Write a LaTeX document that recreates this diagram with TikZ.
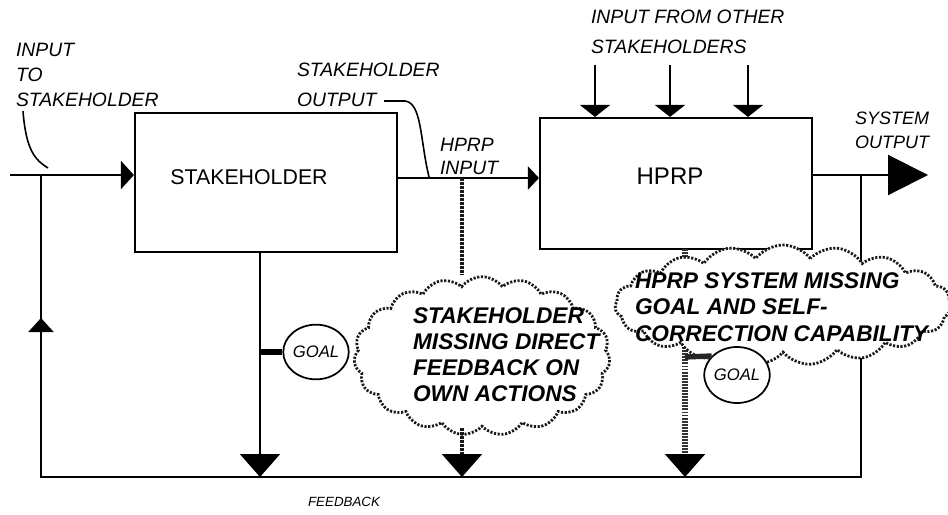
\documentclass[tikz,border=0pt]{standalone}
\usepackage{fontspec}
\setmainfont{Liberation Sans}
\usetikzlibrary{arrows.meta,shapes.geometric,shapes.symbols,calc}
\newcommand\lblfont[1]{\fontsize{14.5}{#1}\selectfont\itshape}
\begin{document}
\begin{tikzpicture}[x=0.75pt,y=-0.75pt,line width=1.6pt,
  boxnode/.style={draw,rectangle,inner sep=0pt,line width=1.6pt},
  lbl/.style={align=left,inner sep=0pt,anchor=west},
  cloudtxt/.style={font=\fontsize{17}{19.5}\selectfont\bfseries\itshape,align=left,inner sep=0pt,anchor=west},
  boxtxt/.style={inner sep=0pt},
  goalnode/.style={draw,ellipse,fill=white,inner sep=0pt,line width=1.3pt,font=\fontsize{12.5}{14}\selectfont\itshape},
  cloudshape/.style={cloud,cloud puffs=19,cloud puff arc=105,cloud ignores aspect,draw=black!90,fill=white,
    line width=2.1pt,dash pattern=on 1.6pt off 1.2pt,inner sep=0pt},
  hatchthin/.style={draw=black!90,line width=3.2pt,dash pattern=on 2pt off 1pt},
  hatchthick/.style={draw=black!80,line width=5pt,dash pattern=on 1.4pt off 0.9pt},
  goallink/.style={line width=4pt},
  tipIn/.style={-{Triangle[length=9.75pt,width=21pt]}},
  tipHp/.style={-{Triangle[length=8.25pt,width=17.25pt]}},
  tipUp/.style={-{Triangle[length=10.5pt,width=18.75pt]}},
  tipOther/.style={-{Triangle[length=9pt,width=22.5pt]}},
  tipDown/.style={-{Triangle[length=17.25pt,width=30pt]}},
  tipOut/.style={-{Triangle[length=30pt,width=30pt]}}]
\useasboundingbox (0,0) rectangle (948,514);

% boxes
\node[boxnode,minimum width=196.5pt,minimum height=104.25pt] (sh) at (266,182.5) {};
\node[boxnode,minimum width=204pt,minimum height=98.25pt] (hp) at (676,183.5) {};
\node[boxtxt,font=\fontsize{16}{18}\selectfont] (shtxt) at (249,177) {STAKEHOLDER};
\node[boxtxt,font=\fontsize{18}{20}\selectfont] (hptxt) at (670,176) {HPRP};

% coordinates
\coordinate (in) at (10,175);
\coordinate (j1) at (41,175);
\coordinate (fbL) at (41,477);
\coordinate (fbR) at (861,477);
\coordinate (j2) at (861,175);
\coordinate (outEnd) at (928,175);
\coordinate (upTip) at (41,318);
\coordinate (hpin) at (462,178);
\coordinate (sd) at (260,477);
\coordinate (hpd) at (685,249);
\coordinate (hpdb) at (685,455);
\coordinate (hpdt) at (685,477);
\coordinate (o1) at (595,65);
\coordinate (o2) at (670,65);
\coordinate (o3) at (748,65);

% goal circle 1
\node[goalnode,minimum width=45pt,minimum height=41pt] (goal1) at (316,352) {GOAL};

% cloud 1
\node[cloudshape,minimum width=192pt,minimum height=119pt] (cloud1) at (482,356) {};

% main flow
\draw[tipIn] (in) -- (in -| sh.west);
\draw[tipHp] (sh.east |- hpin) -- (hpin -| hp.west);
\draw[tipOther] (o1) -- (o1 |- hp.north);
\draw[tipOther] (o2) -- (o2 |- hp.north);
\draw[tipOther] (o3) -- (o3 |- hp.north);
\draw[tipOut] (hp.east |- j2) -- (outEnd);

% feedback loop
\draw (j2) -- (fbR) -- (fbL) -- (j1);
\draw[tipUp] (fbL) -- (upTip);
\draw[tipDown] (sd |- sh.south) -- (sd);
\draw[goallink] (sd |- goal1.west) -- (goal1.west);

% hatched connectors
\draw[hatchthin] (hpin) -- (hpin |- cloud1.north);
\draw[hatchthin] (hpin |- cloud1.south) -- ($(hpin |- fbL)+(0,-22)$);
\draw[tipDown] ($(hpin |- fbL)+(0,-23)$) -- (hpin |- fbL);
\draw[hatchthick] (hpd) -- (hpdb);
\draw[tipDown] (hpdb) -- (hpdt);

% cloud 2
\node[cloudshape,minimum width=252pt,minimum height=90pt] (cloud2) at (783,305) {};

% goal circle 2 (over the cloud edge)
\node[goalnode,minimum width=48.75pt,minimum height=42pt] (goal2) at (737,375) {GOAL};
\coordinate (g2l) at (685,357);
\draw[goallink,draw=black!85] (g2l) -- (goal2.143);

% labels
\node[lbl,font=\lblfont{18.75}] (lin) at (15,75) {INPUT\\TO\\STAKEHOLDER};
\node[lbl,font=\lblfont{22.5}] (lso) at (296,85) {STAKEHOLDER\\OUTPUT};
\node[lbl,font=\lblfont{17.25}] (lhi) at (439,156.5) {HPRP\\INPUT};
\node[lbl,font=\lblfont{22.5}] (lio) at (590,32) {INPUT FROM OTHER\\STAKEHOLDERS};
\node[lbl,font=\fontsize{13.5}{18}\selectfont\itshape] (lsys) at (854,130) {SYSTEM\\OUTPUT};
\node[lbl,font=\fontsize{10}{12}\selectfont\itshape] (lfb) at (307,502) {FEEDBACK};

% leader lines
\coordinate (lin1) at (23,111);
\coordinate (lin2) at (48,168);
\draw[line width=1.2pt] (lin1) .. controls (26,150) and (35,160) .. (lin2);
\coordinate (lso1) at (384,101);
\coordinate (lso2) at (405,101);
\coordinate (lso3) at (429,177);
\draw[line width=1.2pt] (lso1) -- (lso2) .. controls (422,103) and (420,140) .. (lso3);

% cloud texts
\node[cloudtxt] (c1t) at (412,355) {STAKEHOLDER\\MISSING DIRECT\\FEEDBACK ON\\OWN ACTIONS};
\node[cloudtxt,font=\fontsize{17}{20}\selectfont\bfseries\itshape] (c2t) at (634,307) {HPRP SYSTEM MISSING\\GOAL AND SELF-\\CORRECTION CAPABILITY};
\end{tikzpicture}
\end{document}
